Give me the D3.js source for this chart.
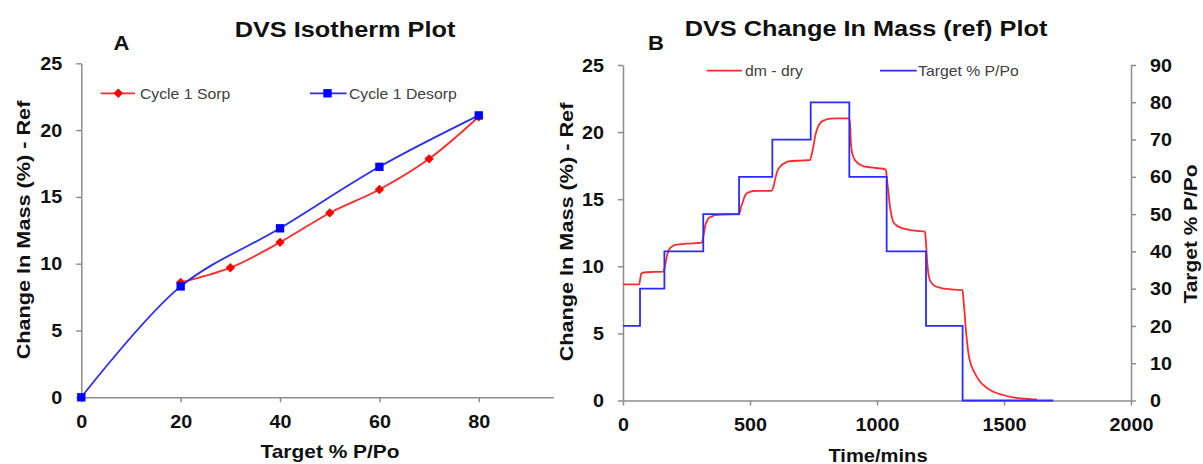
<!DOCTYPE html>
<html><head><meta charset="utf-8">
<script src="https://cdn.jsdelivr.net/npm/d3@7"></script>
<style>
html,body{margin:0;padding:0;background:#fff;}
svg{display:block;}
</style></head><body>
<svg id="chart" width="1203" height="464"></svg>
<script>
// ---- Panel A: DVS isotherm (cycle 1) ----
const sorpRH = [20, 30, 40, 50, 60, 70, 80];
const sorpMass = [8.6, 9.7, 11.6, 13.8, 15.55, 17.85, 21.0];
const desorpRH = [80, 60, 40, 20, 0];
const desorpMass = [21.1, 17.25, 12.65, 8.3, 0];
const isoXTicks = [0, 20, 40, 60, 80];
const massTicks = [0, 5, 10, 15, 20, 25];

// ---- Panel B: change in mass vs time ----
const stepTime = [0, 67, 163, 316, 457, 588, 739, 891, 1038, 1193, 1337, 1694];
const stepTarget = [20, 30, 40, 50, 60, 70, 80, 60, 40, 20, 0, 0];
const dmTime = [0, 64, 68, 72, 78, 120, 159, 163, 168, 172, 178, 185, 195, 205, 230, 251, 290, 310,
  316, 320, 323, 330, 336, 350, 362, 400, 457, 462, 466, 470, 474, 480, 487, 500, 513, 550, 585,
  590, 594, 600, 605, 612, 625, 640, 651, 700, 736, 741, 747, 752, 756, 762, 769, 780, 795, 815, 841, 891,
  895, 896, 900, 906, 913, 925, 946, 965, 985, 1010, 1031, 1036, 1038, 1044, 1051, 1057, 1064, 1075, 1091,
  1110, 1130, 1160, 1189, 1193, 1198, 1202, 1206, 1215, 1228, 1250, 1274, 1305, 1337, 1340, 1343, 1350,
  1355, 1360, 1368, 1379, 1392, 1406, 1425, 1445, 1470, 1497, 1530, 1563, 1600, 1629];
const dmDry = [8.66, 8.66, 9.1, 9.45, 9.52, 9.58, 9.6, 9.8, 10.3, 10.7, 11.1, 11.34, 11.5, 11.59, 11.65, 11.69, 11.73, 11.76,
  12.2, 12.6, 12.95, 13.35, 13.57, 13.72, 13.82, 13.86, 13.88, 14.2, 14.5, 14.7, 14.94, 15.25, 15.44, 15.55, 15.61, 15.62, 15.63,
  15.8, 16.06, 16.55, 16.93, 17.25, 17.55, 17.72, 17.82, 17.88, 17.92, 18.2, 18.67, 19.2, 19.66, 20.1, 20.45, 20.75, 20.9, 21.0, 21.03, 21.03,
  20.3, 19.66, 18.67, 18.2, 17.92, 17.68, 17.47, 17.4, 17.35, 17.3, 17.25, 17.1, 16.68, 15.69, 14.44, 13.8, 13.32, 13.08, 12.9,
  12.78, 12.7, 12.64, 12.58, 11.71, 10.22, 9.5, 9.1, 8.75, 8.53, 8.4, 8.31, 8.26, 8.23, 7.6, 6.99, 5.25,
  4.3, 3.52, 2.8, 2.27, 1.8, 1.4, 1.05, 0.78, 0.56, 0.41, 0.26, 0.16, 0.11, 0.09];
const timeTicks = [0, 500, 1000, 1500, 2000];
const targetTicks = [0, 10, 20, 30, 40, 50, 60, 70, 80, 90];

const svg = d3.select('#chart');
const FONT = "'Liberation Sans', Arial, sans-serif";
const AXIS_GREY = '#8c8c8c';
const RED = '#ff2b2b', BLUE = '#2b2bff';
const plain = d3.format('d');

// widen text horizontally by factor k
function stretch(sel, k) {
  sel.each(function () {
    const w = this.getComputedTextLength();
    this.setAttribute('textLength', w * k);
    this.setAttribute('lengthAdjust', 'spacingAndGlyphs');
  });
  return sel;
}

function styleAxis(g) {
  g.attr('font-family', FONT).attr('font-size', 19).attr('font-weight', 'bold');
  g.select('.domain').attr('stroke', AXIS_GREY).attr('stroke-width', 1.5);
  g.selectAll('.tick line').attr('stroke', AXIS_GREY).attr('stroke-width', 1.5);
  g.selectAll('.tick text').attr('fill', '#111');
  stretch(g.selectAll('.tick text'), 1.04);
}

function boldText(x, y, str, size, k, anchor = 'middle', rotate = 0) {
  const t = svg.append('text')
    .attr('transform', `translate(${x},${y}) rotate(${rotate})`)
    .attr('text-anchor', anchor)
    .attr('font-family', FONT).attr('font-weight', 'bold').attr('font-size', size)
    .attr('fill', '#111').text(str);
  stretch(t, k);
  return t;
}

function legendText(x, y, str) {
  const t = svg.append('text').attr('x', x).attr('y', y)
    .attr('font-family', FONT).attr('font-size', 15).attr('fill', '#404040').text(str);
  stretch(t, 1.05);
}

// ================= Panel A =================
const xIso = d3.scaleLinear().domain([0, 95]).range([81.3, 553.3]);
const yIso = d3.scaleLinear().domain([0, 25]).range([397.3, 63.3]);

svg.append('g').attr('transform', `translate(0,${yIso(0)})`)
  .call(d3.axisBottom(xIso).tickValues(isoXTicks).tickFormat(plain).tickSize(5).tickSizeOuter(0).tickPadding(12))
  .call(styleAxis);
svg.append('g').attr('transform', `translate(${xIso(0)},0)`)
  .call(d3.axisLeft(yIso).tickValues(massTicks).tickFormat(plain).tickSize(5).tickSizeOuter(0).tickPadding(14))
  .call(styleAxis);

const sorp = sorpRH.map((r, i) => [r, sorpMass[i]]);
const desorp = desorpRH.map((r, i) => [r, desorpMass[i]]);
const isoLine = d3.line().x(d => xIso(d[0])).y(d => yIso(d[1])).curve(d3.curveCatmullRom);

svg.append('path').datum(sorp).attr('d', isoLine)
  .attr('fill', 'none').attr('stroke', RED).attr('stroke-width', 1.8);
const diamond = d3.symbol(d3.symbolSquare, 44);
svg.selectAll('.sorp-pt').data(sorp).join('path')
  .attr('d', diamond)
  .attr('transform', d => `translate(${xIso(d[0])},${yIso(d[1])}) rotate(45)`)
  .attr('fill', '#ff0000');

svg.append('path').datum(desorp).attr('d', isoLine)
  .attr('fill', 'none').attr('stroke', BLUE).attr('stroke-width', 1.8);
const square = d3.symbol(d3.symbolSquare, 70);
svg.selectAll('.desorp-pt').data(desorp).join('path')
  .attr('d', square)
  .attr('transform', d => `translate(${xIso(d[0])},${yIso(d[1])})`)
  .attr('fill', '#0000ff');

// legend A
svg.append('line').attr('x1', 100.7).attr('x2', 135).attr('y1', 93.3).attr('y2', 93.3)
  .attr('stroke', RED).attr('stroke-width', 1.8);
svg.append('path').attr('d', diamond).attr('transform', 'translate(118.3,93.3) rotate(45)').attr('fill', '#ff0000');
legendText(140, 98.5, 'Cycle 1 Sorp');
svg.append('line').attr('x1', 310).attr('x2', 346.6).attr('y1', 93.3).attr('y2', 93.3)
  .attr('stroke', BLUE).attr('stroke-width', 1.8);
svg.append('path').attr('d', square).attr('transform', 'translate(327.5,93.3)').attr('fill', '#0000ff');
legendText(349, 98.5, 'Cycle 1 Desorp');

boldText(345, 37.3, 'DVS Isotherm Plot', 22, 1.15);
boldText(121.5, 50, 'A', 21, 1.05);
boldText(330, 458, 'Target % P/Po', 19, 1.1);
boldText(30, 230, 'Change In Mass (%) - Ref', 19, 1.14, 'middle', -90);

// ================= Panel B =================
const xT = d3.scaleLinear().domain([0, 2000]).range([623, 1131]);
const yM = d3.scaleLinear().domain([0, 25]).range([400.5, 65]);
const yP = d3.scaleLinear().domain([0, 90]).range([400.5, 65]);

svg.append('g').attr('transform', `translate(0,${yM(0)})`)
  .call(d3.axisBottom(xT).tickValues(timeTicks).tickFormat(plain).tickSize(5).tickSizeOuter(0).tickPadding(12.5))
  .call(styleAxis);
svg.append('g').attr('transform', `translate(${xT(0)},0)`)
  .call(d3.axisLeft(yM).tickValues(massTicks).tickFormat(plain).tickSize(5).tickSizeOuter(0).tickPadding(14))
  .call(styleAxis);
svg.append('g').attr('transform', `translate(${xT(2000)},0)`)
  .call(d3.axisRight(yP).tickValues(targetTicks).tickFormat(plain).tickSize(5).tickSizeOuter(0).tickPadding(14))
  .call(styleAxis);

const dm = dmTime.map((t, i) => [t, dmDry[i]]);
svg.append('path').datum(dm)
  .attr('d', d3.line().x(d => xT(d[0])).y(d => yM(d[1])).curve(d3.curveMonotoneX))
  .attr('fill', 'none').attr('stroke', RED).attr('stroke-width', 1.8);

const steps = stepTime.map((t, i) => [t, stepTarget[i]]);
svg.append('path').datum(steps)
  .attr('d', d3.line().x(d => xT(d[0])).y(d => yP(d[1])).curve(d3.curveStepAfter))
  .attr('fill', 'none').attr('stroke', BLUE).attr('stroke-width', 1.8);

// legend B
svg.append('line').attr('x1', 706.7).attr('x2', 742).attr('y1', 70.7).attr('y2', 70.7)
  .attr('stroke', RED).attr('stroke-width', 1.8);
legendText(745, 76, 'dm - dry');
svg.append('line').attr('x1', 880).attr('x2', 916.7).attr('y1', 70.7).attr('y2', 70.7)
  .attr('stroke', BLUE).attr('stroke-width', 1.8);
legendText(918, 76, 'Target % P/Po');

boldText(866, 36, 'DVS Change In Mass (ref) Plot', 22, 1.15);
boldText(656, 50, 'B', 21, 1.05);
boldText(878, 461.5, 'Time/mins', 19, 1.06);
boldText(573, 232, 'Change In Mass (%) - Ref', 19, 1.14, 'middle', -90);
boldText(1197, 234, 'Target % P/Po', 19, 1.1, 'middle', -90);
</script>
</body></html>
